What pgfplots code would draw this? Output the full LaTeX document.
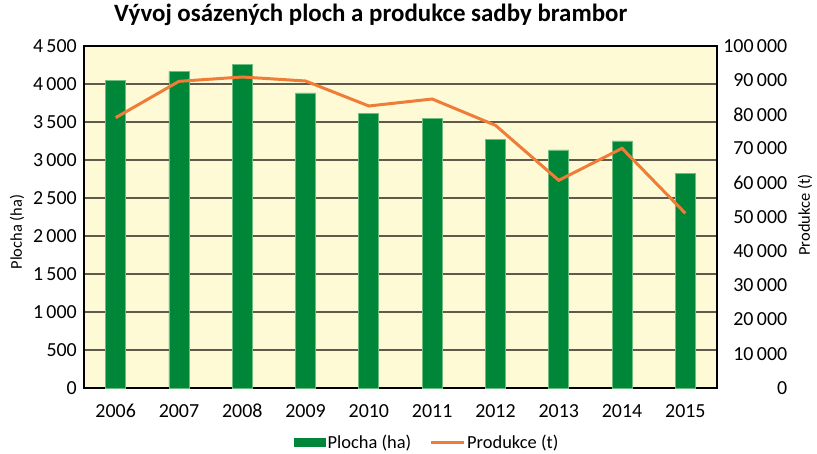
\documentclass[border=0pt]{standalone}
\usepackage{pgfplots}
\pgfplotsset{compat=1.18}
\usepackage{fontspec}
\setmainfont{Carlito}
\definecolor{barg}{RGB}{0,134,57}
\definecolor{baredge}{RGB}{110,190,130}
\definecolor{lineo}{RGB}{239,125,55}
\definecolor{bgy}{RGB}{255,250,214}
\definecolor{gridc}{RGB}{95,90,75}
\begin{document}
\begin{tikzpicture}
\useasboundingbox (-84bp,-66bp) rectangle (733bp,388bp);
\begin{axis}[
  at={(0,0)}, anchor=south west, scale only axis, width=633bp, height=342bp,
  xmin=-0.5, xmax=9.5, ymin=0, ymax=4500,
  xtick={0,...,9},
  xticklabels={2006,2007,2008,2009,2010,2011,2012,2013,2014,2015},
  ytick={0,500,...,4500},
  yticklabels={0,500,1\,000,1\,500,2\,000,2\,500,3\,000,3\,500,4\,000,4\,500},
  scaled y ticks=false,
  axis background/.style={fill=bgy},
  ymajorgrids, grid style={draw=gridc, line width=1.3bp},
  major tick length=0pt,
  axis line style={line width=1.3bp, black},
  yticklabel style={font=\fontsize{20}{24}\selectfont, inner sep=0pt, xshift=-7bp},
  xticklabel style={font=\fontsize{20}{24}\selectfont, inner sep=0pt, yshift=-16bp},
  ylabel={Plocha (ha)},
  ylabel style={at={(axis description cs:-0.106,0.456)}, anchor=center, font=\fontsize{16.5}{20}\selectfont},
  title={\textbf{Vývoj osázených ploch a produkce sadby brambor}},
  title style={at={(axis description cs:0.453,1)}, anchor=base, yshift=19bp, font=\fontsize{25}{30}\selectfont},
  legend columns=2,
  legend style={draw=none, fill=none, at={(axis description cs:0.542,-0.158)}, anchor=center,
    font=\fontsize{18.5}{22}\selectfont,
    /tikz/every even column/.append style={column sep=16bp}},
]
\addplot[ybar, bar width=20bp, fill=barg, draw=baredge, line width=0.8bp,
  legend image code/.code={\fill[barg] (0bp,-4bp) rectangle (31bp,4bp);}]
  coordinates {(0,4049) (1,4162) (2,4259) (3,3882) (4,3618) (5,3544) (6,3272) (7,3132) (8,3250) (9,2825)};
\addlegendentry{Plocha (ha)}
\addlegendimage{legend image code/.code={\draw[lineo, line width=3bp] (0bp,0bp) -- (33bp,0bp);}}
\addlegendentry{Produkce (t)}
\end{axis}
\begin{axis}[
  at={(0,0)}, anchor=south west, scale only axis, width=633bp, height=342bp,
  xmin=-0.5, xmax=9.5, ymin=0, ymax=100000,
  axis x line=none, axis y line*=right,
  ytick={0,10000,...,100000},
  yticklabels={0,10\,000,20\,000,30\,000,40\,000,50\,000,60\,000,70\,000,80\,000,90\,000,100\,000},
  scaled y ticks=false,
  major tick length=0pt,
  axis line style={line width=1.3bp, black},
  yticklabel style={font=\fontsize{20}{24}\selectfont, inner sep=0pt, anchor=west,
    text width=70bp, align=right},
  ylabel={Produkce (t)},
  ylabel style={at={(axis description cs:1.139,0.506)}, anchor=center, font=\fontsize{16.5}{20}\selectfont},
]
\addplot[lineo, line width=3bp, mark=none]
  coordinates {(0,79035) (1,89670) (2,90936) (3,89766) (4,82456) (5,84503) (6,76803) (7,60719) (8,70078) (9,51072)};
\end{axis}
\end{tikzpicture}
\end{document}
